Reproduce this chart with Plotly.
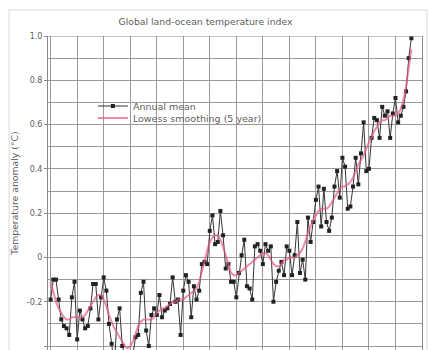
import plotly.graph_objects as go

# GISTEMP global land-ocean temperature index, anomaly vs 1951-1980 (°C)
years = list(range(1880, 2017))

annual_mean = [
    -0.19, -0.10, -0.10, -0.19, -0.28, -0.31, -0.32, -0.35, -0.18, -0.11,
    -0.37, -0.24, -0.28, -0.32, -0.31, -0.23, -0.12, -0.12, -0.28, -0.18,
    -0.09, -0.15, -0.30, -0.39, -0.49, -0.28, -0.23, -0.40, -0.44, -0.48,
    -0.44, -0.44, -0.36, -0.35, -0.16, -0.11, -0.33, -0.40, -0.26, -0.23,
    -0.26, -0.17, -0.27, -0.24, -0.23, -0.21, -0.09, -0.20, -0.19, -0.35,
    -0.15, -0.08, -0.11, -0.27, -0.13, -0.19, -0.15, -0.03, -0.02, -0.03,
    0.12, 0.19, 0.06, 0.07, 0.21, 0.10, -0.05, -0.03, -0.11, -0.11,
    -0.18, -0.07, 0.01, 0.08, -0.13, -0.14, -0.19, 0.05, 0.06, 0.03,
    -0.03, 0.06, 0.03, 0.05, -0.20, -0.11, -0.06, -0.02, -0.08, 0.05,
    0.03, -0.08, 0.01, 0.16, -0.07, -0.01, -0.10, 0.18, 0.07, 0.16,
    0.26, 0.32, 0.14, 0.31, 0.16, 0.12, 0.18, 0.32, 0.39, 0.27,
    0.45, 0.41, 0.22, 0.23, 0.32, 0.45, 0.33, 0.47, 0.61, 0.39,
    0.40, 0.54, 0.63, 0.62, 0.54, 0.68, 0.64, 0.66, 0.54, 0.65,
    0.72, 0.61, 0.64, 0.68, 0.75, 0.90, 0.99,
]

lowess_5yr = [
    -0.11, -0.16, -0.20, -0.23, -0.25, -0.27, -0.28, -0.28, -0.27, -0.27,
    -0.27, -0.27, -0.27, -0.26, -0.24, -0.22, -0.20, -0.18, -0.17, -0.17,
    -0.19, -0.22, -0.26, -0.29, -0.32, -0.34, -0.36, -0.38, -0.40, -0.41,
    -0.40, -0.38, -0.34, -0.31, -0.29, -0.28, -0.28, -0.28, -0.28, -0.27,
    -0.25, -0.24, -0.23, -0.23, -0.22, -0.21, -0.20, -0.20, -0.19, -0.19,
    -0.19, -0.18, -0.17, -0.16, -0.15, -0.14, -0.11, -0.07, -0.02, 0.03,
    0.07, 0.09, 0.10, 0.10, 0.08, 0.05, 0.01, -0.03, -0.07, -0.08,
    -0.08, -0.07, -0.06, -0.05, -0.04, -0.03, -0.02, -0.01, 0.00, 0.01,
    0.02, 0.02, 0.01, -0.01, -0.03, -0.04, -0.04, -0.03, -0.01, -0.01,
    0.00, 0.00, 0.00, 0.01, 0.02, 0.04, 0.07, 0.11, 0.14, 0.17,
    0.19, 0.21, 0.22, 0.22, 0.22, 0.23, 0.25, 0.27, 0.29, 0.31,
    0.32, 0.32, 0.33, 0.34, 0.36, 0.39, 0.42, 0.44, 0.46, 0.49,
    0.52, 0.54, 0.57, 0.59, 0.61, 0.62, 0.62, 0.63, 0.64, 0.64,
    0.64, 0.65, 0.67, 0.71, 0.77, 0.86, 0.94,
]

y_ticks = [-0.4, -0.2, 0, 0.2, 0.4, 0.6, 0.8, 1.0]
y_tick_labels = ["-0.4", "-0.2", "0", "0.2", "0.4", "0.6", "0.8", "1.0"]

fig = go.Figure()

fig.add_trace(go.Scatter(
    x=years, y=annual_mean, name="Annual mean",
    mode="lines+markers", legend="legend",
    line=dict(color="#333333", width=1),
    marker=dict(symbol="square", size=4, color="#222222"),
))

fig.add_trace(go.Scatter(
    x=years, y=lowess_5yr, name="Lowess smoothing (5 year)",
    mode="lines", legend="legend2",
    line=dict(color="rgba(230,90,125,0.7)", width=2),
))

grid = "#999999"
text_col = "#606060"
legend_style = dict(xanchor="left", yanchor="middle", bgcolor="rgba(255,255,255,0)",
                    font=dict(size=9.5, color=text_col), itemwidth=30)

fig.update_layout(
    width=429, height=350,
    margin=dict(l=48, r=7, t=36, b=0),
    paper_bgcolor="white", plot_bgcolor="white",
    font=dict(family="DejaVu Sans, Verdana, sans-serif", size=8, color=text_col),
    title=dict(text="Global land-ocean temperature index", x=0.479, xanchor="center",
               y=1 - 22 / 350, yanchor="middle",
               font=dict(size=9.3, color=text_col)),
    showlegend=True,
    legend=dict(x=0.12, y=(350 - 106) / 314, **legend_style),
    legend2=dict(x=0.12, y=(350 - 118) / 314, **legend_style),
    xaxis=dict(range=[1879, 2020], dtick=10, tick0=1880,
               showgrid=True, gridcolor=grid, gridwidth=1,
               showticklabels=False, zeroline=False, showline=False),
    yaxis=dict(range=[-0.418, 1.0], tickvals=y_ticks, ticktext=y_tick_labels,
               showgrid=True, gridcolor=grid, gridwidth=1,
               minor=dict(dtick=0.1, tick0=0, showgrid=True, gridcolor=grid, gridwidth=1),
               ticks="outside", ticklen=3, tickcolor="#888888",
               showline=True, linecolor="#888888", linewidth=1, mirror=True,
               zeroline=False,
               title=dict(text="Temperature anomaly (°C)", standoff=6,
                          font=dict(size=9.3, color=text_col))),
)

# top border of the plotting frame
fig.add_shape(type="line", xref="paper", yref="y", x0=0, x1=1, y0=1.0, y1=1.0,
              line=dict(color="#888888", width=1))

# light outer frame around the figure
fig.add_shape(type="rect", xref="paper", yref="paper",
              x0=-0.104, x1=1.013, y0=-0.2, y1=1.083,
              line=dict(color="#d8d8d8", width=1))

fig.write_html("out.html")
